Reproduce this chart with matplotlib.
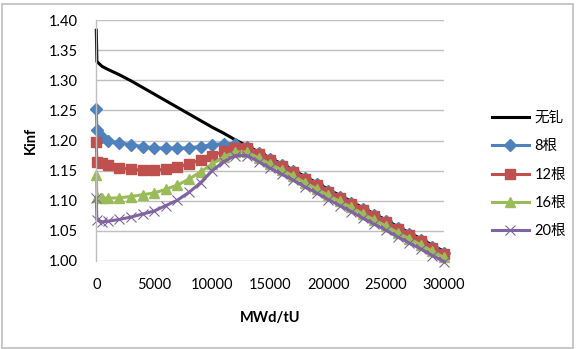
import matplotlib
matplotlib.use("Agg")
import matplotlib.pyplot as plt
from matplotlib.patches import Rectangle

plt.rcParams['font.family'] = ['Lato', 'Noto Sans CJK SC', 'DejaVu Sans']

burnup = [0, 50, 500, 1000, 2000, 3000, 4000, 5000, 6000, 7000, 8000, 9000, 10000,
          11000, 12000, 13000, 14000, 15000, 16000, 17000, 18000, 19000, 20000,
          21000, 22000, 23000, 24000, 25000, 26000, 27000, 28000, 29000, 30000]

k_nogd = [1.383, 1.331, 1.323, 1.318, 1.309, 1.299, 1.288, 1.277, 1.266, 1.255, 1.244,
          1.233, 1.222, 1.212, 1.201, 1.191, 1.181, 1.171, 1.161, 1.151, 1.140, 1.130,
          1.119, 1.109, 1.099, 1.088, 1.078, 1.068, 1.057, 1.047, 1.037, 1.026, 1.016]

k_8 = [1.252, 1.217, 1.206, 1.200, 1.196, 1.193, 1.190, 1.188, 1.187, 1.187, 1.188,
       1.190, 1.193, 1.195, 1.195, 1.189, 1.179, 1.169, 1.159, 1.149, 1.138, 1.128,
       1.117, 1.107, 1.097, 1.086, 1.076, 1.066, 1.055, 1.045, 1.035, 1.024, 1.014]

k_12 = [1.198, 1.165, 1.162, 1.159, 1.155, 1.152, 1.151, 1.151, 1.152, 1.156, 1.161,
        1.168, 1.175, 1.182, 1.187, 1.187, 1.177, 1.167, 1.157, 1.147, 1.136, 1.126,
        1.115, 1.105, 1.095, 1.084, 1.074, 1.064, 1.053, 1.043, 1.033, 1.022, 1.012]

k_16 = [1.143, 1.107, 1.105, 1.104, 1.105, 1.107, 1.110, 1.113, 1.119, 1.126, 1.136,
        1.148, 1.161, 1.173, 1.181, 1.181, 1.171, 1.161, 1.151, 1.141, 1.130, 1.120,
        1.109, 1.099, 1.089, 1.078, 1.068, 1.058, 1.047, 1.037, 1.027, 1.016, 1.006]

k_20 = [1.105, 1.068, 1.065, 1.066, 1.069, 1.073, 1.078, 1.083, 1.092, 1.101, 1.114,
        1.130, 1.150, 1.165, 1.175, 1.175, 1.165, 1.154, 1.144, 1.134, 1.123, 1.113,
        1.102, 1.092, 1.082, 1.071, 1.061, 1.051, 1.040, 1.030, 1.020, 1.009, 0.999]

labels = ['无钆', '8根', '12根', '16根', '20根']
x_ticks = [0, 5000, 10000, 15000, 20000, 25000, 30000]
y_ticks = [1.00, 1.05, 1.10, 1.15, 1.20, 1.25, 1.30, 1.35, 1.40]

W, H = 576, 349
fig = plt.figure(figsize=(W / 100, H / 100), dpi=100)
ax = fig.add_axes([96.3 / W, 1 - 261 / H, (444 - 96.3) / W, (261 - 20) / H])

ax.plot(burnup, k_nogd, color='black', lw=2.2, label=labels[0], clip_on=False)
ax.plot(burnup, k_8, color='#4F81BD', lw=2.2, marker='D', ms=6.5, label=labels[1], clip_on=False)
ax.plot(burnup, k_12, color='#C0504D', lw=2.2, marker='s', ms=7.5, label=labels[2], clip_on=False)
ax.plot(burnup, k_16, color='#9BBB59', lw=2.2, marker='^', ms=7.5, label=labels[3], clip_on=False)
ax.plot(burnup, k_20, color='#8064A2', lw=2.2, marker='x', ms=7, mew=0.8, label=labels[4], clip_on=False)

ax.set_xlim(0, 30000)
ax.set_ylim(1.0, 1.4)
ax.set_xticks(x_ticks)
ax.set_yticks(y_ticks)
ax.set_yticklabels([f"{v:.2f}" for v in y_ticks])
ax.tick_params(axis='both', length=0, labelsize=10.5)
ax.tick_params(axis='y', pad=13)
ax.tick_params(axis='x', pad=12)
ax.grid(axis='y', color='#BFBFBF', lw=1)
ax.set_axisbelow(True)
for s in ['top', 'right', 'bottom']:
    ax.spines[s].set_visible(False)
ax.spines['left'].set_color('#BFBFBF')
ax.spines['left'].set_linewidth(1)

fig.text(270 / W, 1 - 318 / H, 'MWd/tU', ha='center', va='center', fontsize=10.5, fontweight='bold')
fig.text(31 / W, 1 - 140 / H, 'Kinf', ha='center', va='center', rotation=90, fontsize=10.5, fontweight='bold')

leg = fig.legend(loc='upper left', bbox_to_anchor=(479 / W, 1 - 98 / H), frameon=False,
                 fontsize=10.5, handlelength=2.5, labelspacing=0.98, handletextpad=0.4,
                 numpoints=1)

fig.patches.append(Rectangle((1.5 / W, 1.5 / H), (W - 5) / W, (H - 5) / H, transform=fig.transFigure,
                             fill=False, edgecolor='#BFBFBF', lw=1.2))

fig.savefig('out.png', dpi=100)
